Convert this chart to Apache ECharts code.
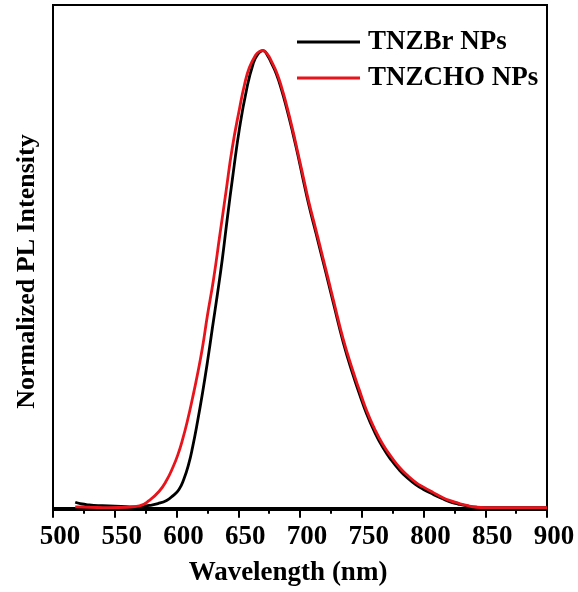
<!DOCTYPE html>
<html>
<head>
<meta charset="utf-8">
<script src="https://cdn.jsdelivr.net/npm/echarts@6/dist/echarts.min.js"></script>
<style>
  html, body { margin: 0; padding: 0; background: #fff; }
  #chart { width: 578px; height: 592px; }
</style>
</head>
<body>
<div id="chart"></div>
<script>
// PL emission spectra (wavelength in nm, normalized intensity)
const seriesNames = ['TNZBr NPs', 'TNZCHO NPs'];

const tnzbr = [
  [518, 0.012], [522, 0.009], [527, 0.007], [533, 0.005], [545, 0.004], [555, 0.003],
  [565, 0.002], [572, 0.003], [578, 0.005], [585, 0.009], [592, 0.016], [597, 0.026],
  [602, 0.040], [606, 0.063], [610, 0.097], [613, 0.132], [617, 0.188], [621, 0.250],
  [625, 0.318], [629, 0.392], [633, 0.465], [637, 0.542], [641, 0.630], [645.7, 0.728],
  [651, 0.830], [656.6, 0.913], [662, 0.971], [666, 0.993], [670, 1.000], [674, 0.988],
  [677, 0.972], [681, 0.948], [685, 0.915], [689, 0.876], [694, 0.822], [698, 0.775],
  [702, 0.725], [707, 0.664], [713, 0.600], [718, 0.546], [723, 0.492], [727, 0.448],
  [735, 0.362], [743, 0.290], [748, 0.250], [754, 0.205], [760, 0.168], [767, 0.132],
  [774, 0.104], [781, 0.081], [787, 0.065], [794, 0.050], [800, 0.040], [808, 0.029],
  [815, 0.020], [821, 0.013], [828, 0.008], [835, 0.004], [843, 0.001], [850, 0.000],
  [870, 0.000], [900, 0.000]
];

const tnzcho = [
  [518, 0.002], [530, 0.001], [545, 0.000], [560, 0.001], [570, 0.004], [578, 0.016],
  [586, 0.036], [592, 0.060], [597, 0.088], [601, 0.115], [605, 0.150], [609, 0.192],
  [613, 0.240], [617, 0.292], [621, 0.350], [625, 0.420], [630, 0.500], [635, 0.595],
  [640, 0.690], [645, 0.785], [651, 0.873], [655, 0.925], [659, 0.963], [664, 0.990],
  [667, 0.998], [670, 1.000], [674, 0.991], [677, 0.976], [681, 0.953], [685, 0.921],
  [689, 0.882], [694, 0.828], [698, 0.780], [702, 0.732], [707, 0.671], [713, 0.607],
  [718, 0.553], [723, 0.499], [727, 0.455], [735, 0.369], [743, 0.298], [748, 0.258],
  [754, 0.212], [760, 0.175], [767, 0.139], [774, 0.111], [781, 0.087], [787, 0.071],
  [794, 0.055], [800, 0.045], [808, 0.033], [815, 0.023], [821, 0.016], [828, 0.010],
  [835, 0.005], [843, 0.001], [850, 0.000], [870, 0.000], [900, 0.000]
];

const xTicks = [500, 550, 600, 650, 700, 750, 800, 850, 900];

const serif = '"Liberation Serif", "DejaVu Serif", serif';
const chart = echarts.init(document.getElementById('chart'), null, { renderer: 'canvas' });

chart.setOption({
  backgroundColor: '#fff',
  animation: false,
  grid: {
    left: 53, right: 31, top: 5, bottom: 82,
    show: true, borderColor: '#000', borderWidth: 2, backgroundColor: 'transparent'
  },
  legend: {
    orient: 'vertical',
    left: 292, top: 22,
    itemWidth: 63, itemHeight: 3, itemGap: 6,
    icon: 'rect',
    data: seriesNames,
    textStyle: {
      fontFamily: serif, fontWeight: 'bold', fontSize: 27, color: '#000',
      lineHeight: 30, padding: [0, 0, 0, 3]
    }
  },
  xAxis: {
    type: 'value',
    min: xTicks[0], max: xTicks[xTicks.length - 1], interval: 50,
    name: 'Wavelength (nm)',
    nameLocation: 'middle', nameGap: 50,
    nameTextStyle: {
      fontFamily: serif, fontWeight: 'bold', fontSize: 27, color: '#000',
      padding: [0, 24, 0, 0]
    },
    axisLine: { show: true, lineStyle: { color: '#000', width: 2 } },
    axisTick: { show: true, inside: false, length: 10, lineStyle: { color: '#000', width: 2 } },
    minorTick: { show: true, splitNumber: 2, length: 6, lineStyle: { color: '#000', width: 2 } },
    axisLabel: {
      margin: 14, fontFamily: serif, fontWeight: 'bold', fontSize: 27, color: '#000',
      padding: [0, 0, 0, 14]
    },
    splitLine: { show: false }
  },
  yAxis: {
    type: 'value',
    min: -0.005, max: 1.1,
    name: 'Normalized PL Intensity',
    nameLocation: 'middle', nameGap: 13, nameRotate: 90,
    nameTextStyle: {
      fontFamily: serif, fontWeight: 'bold', fontSize: 26, color: '#000',
      padding: [0, 28, 0, 0]
    },
    axisLine: { show: true, lineStyle: { color: '#000', width: 2 } },
    axisTick: { show: false },
    axisLabel: { show: false },
    splitLine: { show: false }
  },
  series: [
    {
      name: seriesNames[0], type: 'line', data: tnzbr,
      showSymbol: false, smooth: true,
      lineStyle: { color: '#000', width: 2.8 }, itemStyle: { color: '#000' }
    },
    {
      name: seriesNames[1], type: 'line', data: tnzcho,
      showSymbol: false, smooth: true,
      lineStyle: { color: '#e8131b', width: 2.8 }, itemStyle: { color: '#e8131b' }
    }
  ]
});
</script>
</body>
</html>
